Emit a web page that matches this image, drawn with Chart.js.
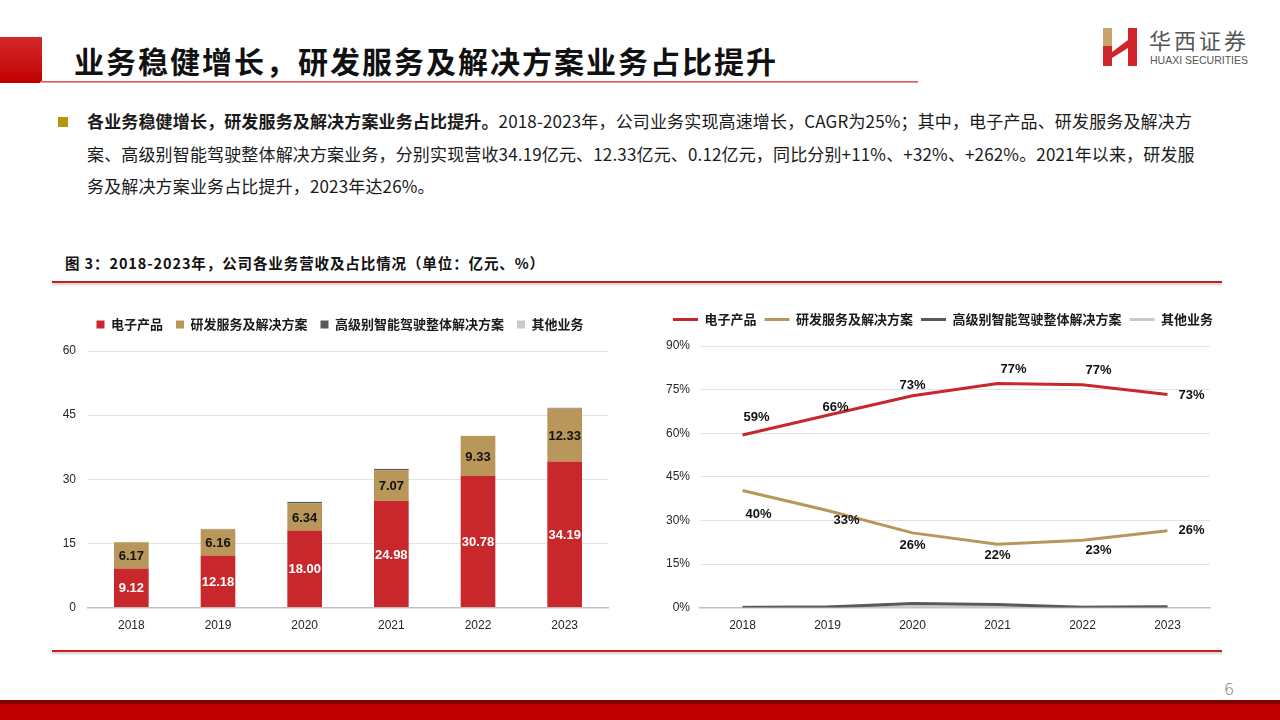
<!DOCTYPE html>
<html lang="zh">
<head>
  <meta charset="UTF-8" />
  <title>业务稳健增长</title>
  <script src="https://cdn.jsdelivr.net/npm/chart.js"></script>
  <style>
    body { margin: 0; width: 1280px; height: 720px; position: relative; background: #fff; overflow: hidden;
           font-family: "Noto Sans CJK SC", "Noto Sans", sans-serif; color: #111; }
    .abs { position: absolute; }
    .line { white-space: nowrap; }
  </style>
</head>
<body>
  <!-- header -->
  <div class="abs" style="left:0;top:37px;width:42px;height:46px;background:linear-gradient(#d42a2a,#c00000);"></div>
  <div class="abs" style="left:74px;top:38px;font-size:30px;font-weight:700;letter-spacing:2px;line-height:44px;">业务稳健增长，研发服务及解决方案业务占比提升</div>
  <div class="abs" style="left:40px;top:81px;width:878px;height:2px;background:linear-gradient(#d63c3c,#f3b5b5);"></div>

  <!-- logo -->
  <svg class="abs" style="left:1100px;top:26px;" width="40" height="42" viewBox="0 0 40 42">
    <polygon points="3,2 12,2 12,20 3,20" fill="#c9a46a"/>
    <polygon points="3,20 12,20 12,40 3,40" fill="#d0262b"/>
    <polygon points="28,2 37,2 37,40 28,40" fill="#d0262b"/>
    <polygon points="12,26 28,14 28,22 12,32" fill="#d0262b"/>
  </svg>
  <div class="abs" style="left:1149px;top:24px;font-size:22px;color:#555;letter-spacing:3px;line-height:30px;">华西证券</div>
  <div class="abs" style="left:1150px;top:54px;font-size:10.5px;color:#555;font-family:'Liberation Sans',Arial,sans-serif;">HUAXI SECURITIES</div>

  <!-- paragraph -->
  <div class="abs" style="left:58px;top:117px;width:10px;height:10px;background:#b8930e;"></div>
  <div class="abs" style="left:87px;top:105px;font-size:17px;letter-spacing:0.15px;line-height:32.5px;color:#1a1a1a;">
    <div class="line"><b>各业务稳健增长，研发服务及解决方案业务占比提升。</b>2018-2023年，公司业务实现高速增长，CAGR为25%；其中，电子产品、研发服务及解决方</div>
    <div class="line">案、高级别智能驾驶整体解决方案业务，分别实现营收34.19亿元、12.33亿元、0.12亿元，同比分别+11%、+32%、+262%。2021年以来，研发服</div>
    <div class="line">务及解决方案业务占比提升，2023年达26%。</div>
  </div>

  <!-- figure title -->
  <div class="abs" style="left:65px;top:253px;font-size:14.5px;font-weight:700;letter-spacing:0.9px;line-height:20px;">图 3：2018-2023年，公司各业务营收及占比情况（单位：亿元、%）</div>
  <div class="abs" style="left:52px;top:281px;width:1170px;height:2px;background:#c81e1e;box-shadow:0 2px 2px #ccc;"></div>

  <!-- charts -->
  <div class="abs" style="left:40px;top:297px;width:580px;height:339px;"><canvas id="barChart"></canvas></div>
  <div class="abs" style="left:636px;top:297px;width:594px;height:339px;"><canvas id="lineChart"></canvas></div>

  <div class="abs" style="left:52px;top:650px;width:1170px;height:2px;background:#c81e1e;box-shadow:0 2px 2px #ccc;"></div>

  <!-- footer -->
  <div class="abs" style="left:1224px;top:680px;font-size:16px;color:#777;font-family:'DejaVu Sans',sans-serif;font-weight:200;">6</div>
  <div class="abs" style="left:0;top:700px;width:1280px;height:4px;background:#7f0000;"></div>
  <div class="abs" style="left:0;top:704px;width:1280px;height:16px;background:#c00000;"></div>

  <script>
    const years = ['2018', '2019', '2020', '2021', '2022', '2023'];
    const seriesNames = ['电子产品', '研发服务及解决方案', '高级别智能驾驶整体解决方案', '其他业务'];

    // 营收（亿元）
    const revElectronics = [9.12, 12.18, 18.00, 24.98, 30.78, 34.19];
    const revRnD = [6.17, 6.16, 6.34, 7.07, 9.33, 12.33];
    const revAdas = [0, 0.03, 0.35, 0.35, 0.03, 0.12];
    const revOther = [0.03, 0.05, 0.05, 0.05, 0.05, 0.12];

    // 占比（%）
    const shareElectronics = [59.4, 66.2, 72.9, 77.1, 76.7, 73.3];
    const shareRnD = [40.3, 33.4, 25.7, 21.8, 23.2, 26.4];
    const shareAdas = [0, 0.2, 1.4, 1.1, 0.1, 0.3];
    const shareOther = [0.2, 0.3, 0.2, 0.2, 0.1, 0.2];

    const barTicks = [0, 15, 30, 45, 60];
    const pctTicks = [0, 15, 30, 45, 60, 75, 90];

    const colRed = '#c8282c';
    const colGold = '#b9975b';
    const colDark = '#595959';
    const colLight = '#c9c9c9';

    const tickFont = { family: "'Liberation Sans', Arial, sans-serif", size: 12 };
    const legendFont = { family: "'Noto Sans CJK SC', sans-serif", size: 13, weight: 'bold' };

    // 固定图例高度，让绘图区顶部对齐
    function legendHeight(h) {
      return {
        id: 'legendHeight',
        beforeInit(chart) {
          const lg = chart.legend;
          const fit = lg.fit;
          lg.fit = function () { fit.call(this); this.height = h; };
        }
      };
    }

    // 右侧占位轴
    const spacerAxis = w => ({
      position: 'right',
      display: true,
      grid: { display: false },
      border: { display: false },
      ticks: { display: false },
      afterFit: s => { s.width = w; }
    });

    // 柱内数值标签
    const barLabels = {
      id: 'barLabels',
      afterDatasetsDraw(chart) {
        const ctx = chart.ctx;
        ctx.save();
        ctx.font = "bold 13px 'Liberation Sans', Arial, sans-serif";
        ctx.textAlign = 'center';
        ctx.textBaseline = 'middle';
        [0, 1].forEach(di => {
          const meta = chart.getDatasetMeta(di);
          ctx.fillStyle = di === 0 ? '#ffffff' : '#111111';
          meta.data.forEach((bar, i) => {
            const v = chart.data.datasets[di].data[i];
            ctx.fillText(v.toFixed(2), bar.x, (bar.y + bar.base) / 2 + 1);
          });
        });
        ctx.restore();
      }
    };

    // 折线标签的偏移（像素）
    const lineLabelOffsets = [
      [[14, -18], [8, -8], [0, -10], [16, -14], [16, -14], [24, 1]],
      [[16, 24], [19, 10], [0, 13], [0, 11], [16, 10], [24, 0]]
    ];

    const lineLabels = {
      id: 'lineLabels',
      afterDatasetsDraw(chart) {
        const ctx = chart.ctx;
        ctx.save();
        ctx.font = "bold 13px 'Liberation Sans', Arial, sans-serif";
        ctx.textAlign = 'center';
        ctx.textBaseline = 'middle';
        ctx.fillStyle = '#111111';
        [0, 1].forEach(di => {
          const meta = chart.getDatasetMeta(di);
          meta.data.forEach((pt, i) => {
            const v = chart.data.datasets[di].data[i];
            const off = lineLabelOffsets[di][i];
            ctx.fillText(Math.round(v) + '%', pt.x + off[0], pt.y + off[1]);
          });
        });
        ctx.restore();
      }
    };

    new Chart(document.getElementById('barChart'), {
      type: 'bar',
      data: {
        labels: years,
        datasets: [
          { label: seriesNames[0], data: revElectronics, backgroundColor: colRed },
          { label: seriesNames[1], data: revRnD, backgroundColor: colGold },
          { label: seriesNames[2], data: revAdas, backgroundColor: colDark },
          { label: seriesNames[3], data: revOther, backgroundColor: colLight }
        ].map(d => Object.assign(d, { barPercentage: 0.4, categoryPercentage: 1, borderWidth: 0 }))
      },
      options: {
        responsive: true,
        maintainAspectRatio: false,
        animation: false,
        layout: { padding: { left: 20, right: 0, top: 8, bottom: 0 } },
        plugins: {
          legend: {
            position: 'top',
            labels: { boxWidth: 8, boxHeight: 8, font: legendFont, color: '#1a1a1a', padding: 13 }
          },
          tooltip: { enabled: false }
        },
        scales: {
          x: {
            stacked: true,
            grid: { display: false },
            border: { color: '#bfbfbf', width: 1.5 },
            ticks: { font: tickFont, color: '#262626' }
          },
          y: {
            stacked: true,
            min: 0, max: 60,
            afterBuildTicks: s => { s.ticks = barTicks.map(v => ({ value: v })); },
            afterFit: s => { s.width = 28; },
            grid: { color: '#e3e3e3', drawTicks: false },
            border: { display: false },
            ticks: { font: tickFont, color: '#262626', padding: 12 }
          },
          yr: spacerAxis(12)
        }
      },
      plugins: [barLabels, legendHeight(46)]
    });

    new Chart(document.getElementById('lineChart'), {
      type: 'line',
      data: {
        labels: years,
        datasets: [
          { label: seriesNames[0], data: shareElectronics, borderColor: colRed, backgroundColor: colRed },
          { label: seriesNames[1], data: shareRnD, borderColor: colGold, backgroundColor: colGold },
          { label: seriesNames[2], data: shareAdas, borderColor: colDark, backgroundColor: colDark },
          { label: seriesNames[3], data: shareOther, borderColor: colLight, backgroundColor: colLight }
        ].map(d => Object.assign(d, { borderWidth: 3, pointRadius: 0, tension: 0, fill: false }))
      },
      options: {
        responsive: true,
        maintainAspectRatio: false,
        animation: false,
        layout: { padding: { left: 20, right: 0, top: 8, bottom: 0 } },
        plugins: {
          legend: {
            position: 'top',
            labels: { boxWidth: 25, boxHeight: 0, font: legendFont, color: '#1a1a1a', padding: 8 }
          },
          tooltip: { enabled: false }
        },
        scales: {
          x: {
            offset: true,
            grid: { display: false },
            border: { color: '#bfbfbf', width: 1.5 },
            ticks: { font: tickFont, color: '#262626' }
          },
          y: {
            min: 0, max: 90,
            afterBuildTicks: s => { s.ticks = pctTicks.map(v => ({ value: v })); },
            afterFit: s => { s.width = 44; },
            grid: { color: '#e3e3e3', drawTicks: false },
            border: { display: false },
            ticks: { font: tickFont, color: '#262626', padding: 10, callback: v => v + '%' }
          },
          yr: spacerAxis(20)
        }
      },
      plugins: [lineLabels, legendHeight(41)]
    });
  </script>
</body>
</html>
